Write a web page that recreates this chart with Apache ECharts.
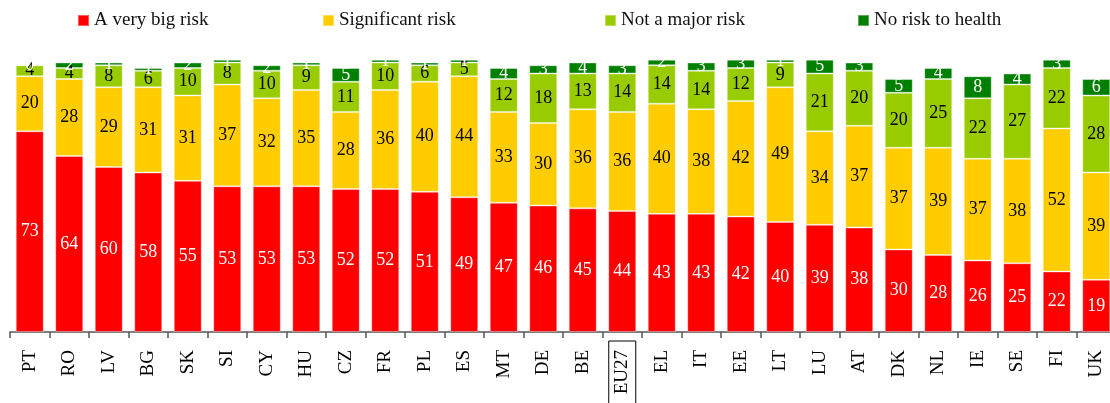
<!DOCTYPE html>
<html>
<head>
<meta charset="utf-8">
<script src="https://cdn.jsdelivr.net/npm/echarts@6/dist/echarts.min.js"></script>
<style>html,body{margin:0;padding:0;background:#fff}#c{width:1110px;height:403px}</style>
</head>
<body>
<div id="c"></div>
<script>
const categories = ['PT','RO','LV','BG','SK','SI','CY','HU','CZ','FR','PL','ES','MT','DE','BE','EU27','EL','IT','EE','LT','LU','AT','DK','NL','IE','SE','FI','UK'];
const veryBigRisk = [73,64,60,58,55,53,53,53,52,52,51,49,47,46,45,44,43,43,42,40,39,38,30,28,26,25,22,19];
const significantRisk = [20,28,29,31,31,37,32,35,28,36,40,44,33,30,36,36,40,38,42,49,34,37,37,39,37,38,52,39];
const notMajorRisk = [4,4,8,6,10,8,10,9,11,10,6,5,12,18,13,14,14,14,12,9,21,20,20,25,22,27,22,28];
const noRisk = [0,2,1,1,2,1,2,1,5,1,1,1,4,3,4,3,2,3,3,1,5,3,5,4,8,4,3,6];
const seriesNames = ['A very big risk','Significant risk','Not a major risk','No risk to health'];

const FONT = '"Liberation Serif", "DejaVu Serif", serif';
const colors = ['#FF0000','#FFCC00','#99CC00','#008000'];
const labelColors = ['#ffffff','#000000','#000000','#ffffff'];
const dataSets = [veryBigRisk, significantRisk, notMajorRisk, noRisk];
const legendLefts = [77, 322, 604, 857];

const chart = echarts.init(document.getElementById('c'), null, {renderer:'canvas'});
chart.setOption({
  animation: false,
  color: colors,
  legend: seriesNames.map((n, i) => ({
    data: [n],
    left: legendLefts[i],
    top: 11,
    padding: 0,
    icon: 'rect',
    itemWidth: 11,
    itemHeight: 11,
    itemGap: 5,
    textStyle: {fontFamily: FONT, fontSize: 19, color: '#111', padding: [0, 0, 0, 0]}
  })),
  grid: {left: 10, width: 1106, top: 57, bottom: 71, containLabel: false, outerBoundsMode: 'none'},
  xAxis: {
    type: 'category',
    data: categories,
    axisLine: {show: true, lineStyle: {color: '#555', width: 1.5}},
    axisTick: {show: true, length: 6, lineStyle: {color: '#555', width: 1.5}},
    axisLabel: {
      rotate: 90,
      margin: 9,
      interval: 0,
      fontFamily: FONT,
      fontSize: 19,
      color: '#000',
      formatter: v => v === 'EU27' ? '{b|' + v + '}' : '{a|' + v + '}',
      rich: {
        a: {fontFamily: FONT, fontSize: 19, color: '#000', padding: [4, 9, 4, 14]},
        b: {fontFamily: FONT, fontSize: 19, color: '#000', padding: [4, 9, 4, 14], borderColor: '#000', borderWidth: 1}
      }
    }
  },
  yAxis: {type: 'value', min: 0, max: 100, show: false, splitLine: {show: false}},
  series: seriesNames.map((n, i) => ({
    name: n,
    type: 'bar',
    stack: 'total',
    barWidth: 28,
    data: dataSets[i],
    itemStyle: {color: colors[i], borderColor: 'rgba(255,255,255,0.35)', borderWidth: 1},
    label: {
      show: true,
      position: 'inside',
      fontFamily: FONT,
      fontSize: 18,
      color: labelColors[i],
      textBorderWidth: 0
    }
  }))
});
</script>
</body>
</html>
